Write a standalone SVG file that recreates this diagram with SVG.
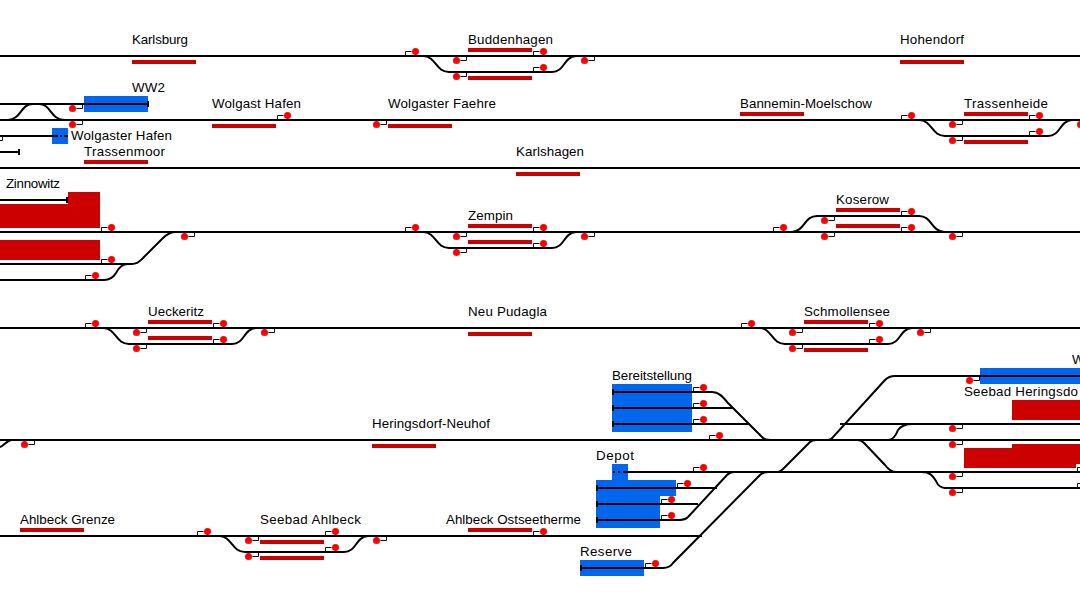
<svg xmlns="http://www.w3.org/2000/svg" width="1080" height="592" viewBox="0 0 1080 592">
<style>
text{font-family:"Liberation Sans",Arial,sans-serif;font-size:13.33px;fill:#000}
.t{fill:none;stroke:#000;stroke-width:2}
.c{fill:none;stroke:#000;stroke-width:2}
.r{fill:#c00}
.b{fill:#06e}
</style>
<defs>
<g id="sa"><path d="M0 0V-4.5H6" fill="none" stroke="#000" stroke-width="1"/><circle cx="10" cy="-4.5" r="3.5" fill="#f00"/></g>
<g id="sb"><path d="M0 0V4.5H-6" fill="none" stroke="#000" stroke-width="1"/><circle cx="-10" cy="4.5" r="3.5" fill="#f00"/></g>
</defs>
<rect width="1080" height="592" fill="#fff"/>
<g id="areas">
<rect class="b" x="84" y="96" width="64" height="16"/>
<rect class="b" x="52" y="128" width="16" height="16"/>
<path class="r" d="M68 192H100V228H0V204H68Z"/>
<rect class="r" x="0" y="240" width="100" height="20"/>
<rect class="b" x="612" y="384" width="80" height="48"/>
<path class="b" d="M612 464H628V480H676V496H660V528H596V480H612Z"/>
<rect class="b" x="580" y="560" width="64" height="16"/>
<rect class="b" x="980" y="368" width="100" height="16"/>
<rect class="r" x="1012" y="400" width="68" height="20"/>
<path class="r" d="M964 448H1012V444H1080V464H1076V468H964Z"/>
</g>
<g id="connectors">
<path class="t" d="M0 56H1080M0 104H148M0 120H1080M0 136H58M0 152H19M0 168H1080M0 200H68M0 232H1080M0 264H132M0 280H104M0 328H1080M0 440H1080M628 472H1080M0 536H702M613 392H712M613 408H733M613 424H750M597 488H717M597 504H698M597 520H680M581 568H663M895 376H1080M840 424H1080M944 488H1080"/>
<path class="t" d="M60 136H62M64 136H68"/>
<path class="t" d="M613 472H615M618 472H620M623 472H628"/>
<path class="c" d="M148 101V107M19 149V155M67 197V203M613 389V395M613 405V411M613 421V427M597 485V491M597 501V507M597 517V523M581 565V571"/>
<g id="curves">
<path class="t" d="M8 120C22 119 20 104 33 104H39C51 104 50 119 64 120"/>
<path class="t" d="M424 56C436 57 436 72 449 72H552C565 72 563 57 576 56"/>
<path class="t" d="M920 120C932 121 932 136 945 136H1048C1061 136 1059 121 1072 120"/>
<path class="t" d="M424 232C436 233 436 248 449 248H552C565 248 563 233 576 232"/>
<path class="t" d="M792 232C805 231 804 216 817 216H919C932 216 931 231 944 232"/>
<path class="t" d="M104 328C116 329 116 344 129 344H232C245 344 243 329 256 328"/>
<path class="t" d="M760 328C772 329 772 344 785 344H888C901 344 899 329 912 328"/>
<path class="t" d="M220 536C232 537 232 552 245 552H344C357 552 355 537 368 536"/>
<path class="t" d="M132 264C138 264 140 261 143 258L163 238C167 234 170 232 176 232"/>
<path class="t" d="M104 280C110 280 113 278 116 273C119 267 122 264 128 264"/>
<path class="t" d="M0 447C4 446 6 441 11 440"/>
<path class="t" d="M712 392C719 392 723 397 728 403L763 438C765 440 767 440 770 440"/>
<path class="t" d="M680 520C684 520 686 519 688 517L727 475C729 473 731 472 734 472"/>
<path class="t" d="M663 568C668 568 671 566 673 563L760 475C762 473 764 472 768 472"/>
<path class="t" d="M778 472C780 472 782 470 783 469L810 442C812 440 813 440 816 440"/>
<path class="t" d="M828 440C830 440 832 439 833 437L885 380C887 378 890 376 895 376"/>
<path class="t" d="M888 440C892 440 895 438 898 430C901 426 905 424 912 424"/>
<path class="t" d="M858 440C862 440 863 442 865 444L885 465C888 469 891 472 896 472"/>
<path class="t" d="M922 472C930 472 933 476 936 481C938 486 941 488 946 488"/>
</g>
</g>
<g id="station-karlsburg"><text x="132" y="44" textLength="56">Karlsburg</text><rect class="r" x="132" y="60" width="64" height="4"/></g>
<g id="station-buddenhagen"><text x="468" y="44" textLength="85">Buddenhagen</text><rect class="r" x="468" y="48" width="64" height="4"/><rect class="r" x="468" y="76" width="64" height="4"/>
<use href="#sa" x="405.5" y="56"/><use href="#sb" x="466.5" y="56"/><use href="#sb" x="466.5" y="72"/><use href="#sa" x="533.5" y="56"/><use href="#sa" x="533.5" y="72"/><use href="#sb" x="594.5" y="56"/></g>
<g id="station-hohendorf"><text x="900" y="44" textLength="64">Hohendorf</text><rect class="r" x="900" y="60" width="64" height="4"/></g>
<g id="station-ww2"><text x="132" y="92" textLength="33">WW2</text><use href="#sb" x="82.5" y="104"/><use href="#sb" x="82.5" y="120"/></g>
<g id="station-wolgast-hafen"><text x="212" y="108" textLength="89">Wolgast Hafen</text><rect class="r" x="212" y="124" width="64" height="4"/><use href="#sa" x="277.5" y="120"/></g>
<g id="station-wolgaster-faehre"><text x="388" y="108" textLength="108">Wolgaster Faehre</text><rect class="r" x="388" y="124" width="64" height="4"/><use href="#sb" x="386.5" y="120"/></g>
<g id="station-bannemin"><text x="740" y="108" textLength="132">Bannemin-Moelschow</text><rect class="r" x="740" y="112" width="64" height="4"/></g>
<g id="station-trassenheide"><text x="964" y="108" textLength="84">Trassenheide</text><rect class="r" x="964" y="112" width="64" height="4"/><rect class="r" x="964" y="140" width="64" height="4"/>
<use href="#sa" x="901.5" y="120"/><use href="#sb" x="962.5" y="120"/><use href="#sb" x="962.5" y="136"/><use href="#sa" x="1029.5" y="120"/><use href="#sa" x="1029.5" y="136"/><use href="#sb" x="1090.5" y="120"/></g>
<g id="station-wolgaster-hafen"><text x="71" y="140" textLength="101">Wolgaster Hafen</text><use href="#sb" x="2.5" y="136"/></g>
<g id="station-trassenmoor"><text x="84" y="156" textLength="81">Trassenmoor</text><rect class="r" x="84" y="160" width="64" height="4"/></g>
<g id="station-karlshagen"><text x="516" y="156" textLength="68">Karlshagen</text><rect class="r" x="516" y="172" width="64" height="4"/></g>
<g id="station-zinnowitz"><text x="6" y="188" textLength="54">Zinnowitz</text><use href="#sa" x="101.5" y="232"/><use href="#sa" x="101.5" y="264"/><use href="#sa" x="85.5" y="280"/><use href="#sb" x="194.5" y="232"/></g>
<g id="station-zempin"><text x="468" y="220" textLength="45">Zempin</text><rect class="r" x="468" y="224" width="64" height="4"/><rect class="r" x="468" y="240" width="64" height="4"/>
<use href="#sa" x="405.5" y="232"/><use href="#sb" x="466.5" y="232"/><use href="#sb" x="466.5" y="248"/><use href="#sa" x="533.5" y="232"/><use href="#sa" x="533.5" y="248"/><use href="#sb" x="594.5" y="232"/></g>
<g id="station-koserow"><text x="836" y="204" textLength="53">Koserow</text><rect class="r" x="836" y="208" width="64" height="4"/><rect class="r" x="836" y="224" width="64" height="4"/>
<use href="#sa" x="773.5" y="232"/><use href="#sb" x="834.5" y="216"/><use href="#sb" x="834.5" y="232"/><use href="#sa" x="901.5" y="216"/><use href="#sa" x="901.5" y="232"/><use href="#sb" x="962.5" y="232"/></g>
<g id="station-ueckeritz"><text x="148" y="316" textLength="56">Ueckeritz</text><rect class="r" x="148" y="320" width="64" height="4"/><rect class="r" x="148" y="336" width="64" height="4"/>
<use href="#sa" x="85.5" y="328"/><use href="#sb" x="146.5" y="328"/><use href="#sb" x="146.5" y="344"/><use href="#sa" x="213.5" y="328"/><use href="#sa" x="213.5" y="344"/><use href="#sb" x="274.5" y="328"/></g>
<g id="station-neu-pudagla"><text x="468" y="316" textLength="79">Neu Pudagla</text><rect class="r" x="468" y="332" width="64" height="4"/></g>
<g id="station-schmollensee"><text x="804" y="316" textLength="86">Schmollensee</text><rect class="r" x="804" y="320" width="64" height="4"/><rect class="r" x="804" y="348" width="64" height="4"/>
<use href="#sa" x="741.5" y="328"/><use href="#sb" x="802.5" y="328"/><use href="#sb" x="802.5" y="344"/><use href="#sa" x="869.5" y="328"/><use href="#sa" x="869.5" y="344"/><use href="#sb" x="930.5" y="328"/></g>
<g id="station-heringsdorf-neuhof"><text x="372" y="428" textLength="118">Heringsdorf-Neuhof</text><rect class="r" x="372" y="444" width="64" height="4"/><use href="#sb" x="34.5" y="440"/></g>
<g id="station-bereitstellung"><text x="612" y="380" textLength="80">Bereitstellung</text><use href="#sa" x="693.5" y="392"/><use href="#sa" x="693.5" y="408"/><use href="#sa" x="693.5" y="424"/><use href="#sa" x="709.5" y="440"/></g>
<g id="station-depot"><text x="596" y="460" textLength="38">Depot</text><use href="#sa" x="693.5" y="472"/><use href="#sa" x="677.5" y="488"/><use href="#sa" x="661.5" y="504"/><use href="#sa" x="661.5" y="520"/></g>
<g id="station-reserve"><text x="580" y="556" textLength="52">Reserve</text><use href="#sa" x="645.5" y="568"/></g>
<g id="station-ahlbeck-grenze"><text x="20" y="524" textLength="95">Ahlbeck Grenze</text><rect class="r" x="20" y="528" width="64" height="4"/></g>
<g id="station-seebad-ahlbeck"><text x="260" y="524" textLength="101">Seebad Ahlbeck</text><rect class="r" x="260" y="540" width="64" height="4"/><rect class="r" x="260" y="556" width="64" height="4"/>
<use href="#sa" x="197.5" y="536"/><use href="#sb" x="258.5" y="536"/><use href="#sb" x="258.5" y="552"/><use href="#sa" x="325.5" y="536"/><use href="#sa" x="325.5" y="552"/><use href="#sb" x="386.5" y="536"/></g>
<g id="station-ahlbeck-ostseetherme"><text x="446" y="524" textLength="135">Ahlbeck Ostseetherme</text><rect class="r" x="468" y="528" width="64" height="4"/><use href="#sa" x="533.5" y="536"/></g>
<g id="station-seebad-heringsdorf"><text x="1072" y="364">W</text><text x="964" y="396" textLength="114">Seebad Heringsdo</text>
<use href="#sb" x="979.5" y="376"/><use href="#sb" x="962.5" y="424"/><use href="#sb" x="962.5" y="440"/><use href="#sb" x="962.5" y="472"/><use href="#sb" x="962.5" y="488"/><use href="#sa" x="1077.5" y="472"/><use href="#sa" x="1077.5" y="488"/></g>
</svg>
